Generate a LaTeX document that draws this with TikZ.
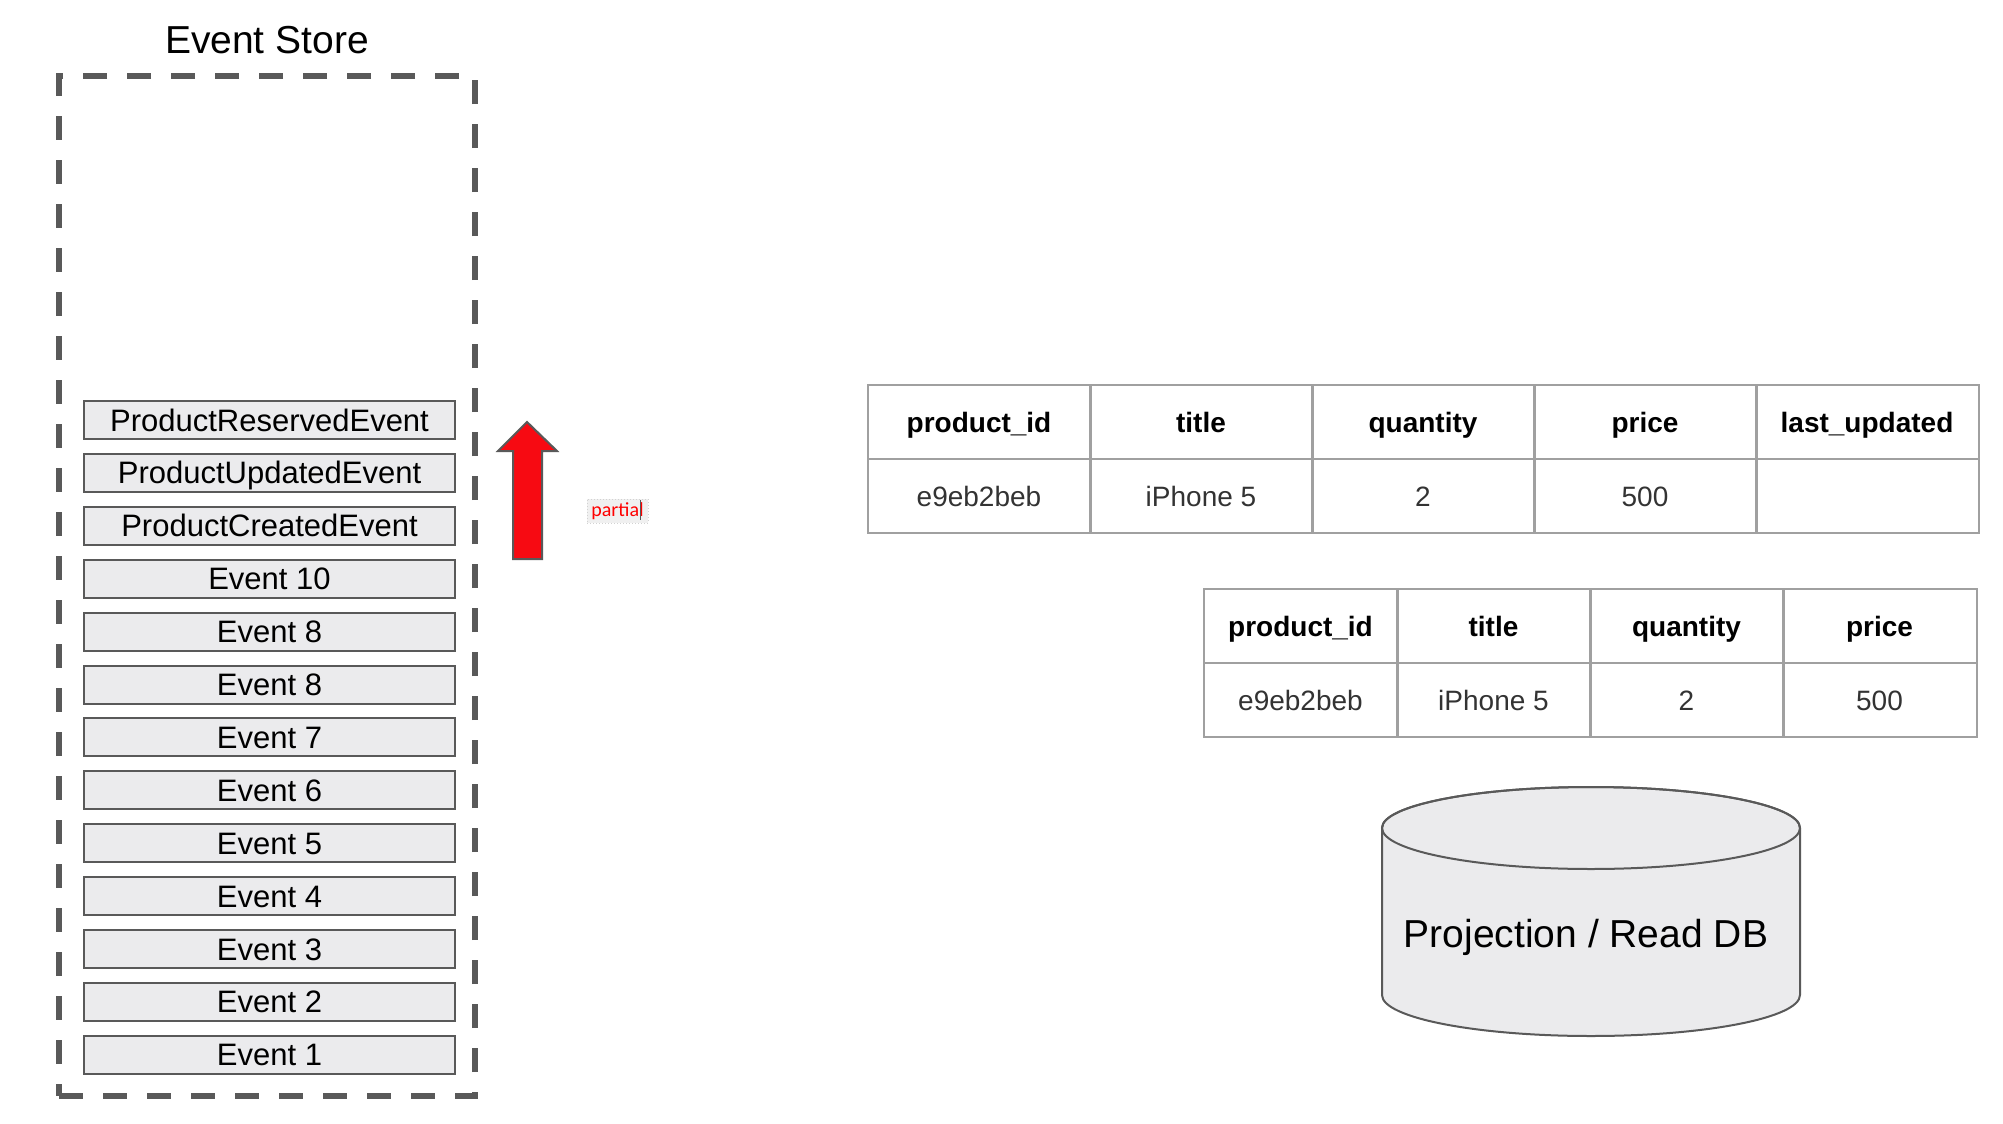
\documentclass[tikz,border=0pt]{standalone}
\usepackage{fontspec}
\setmainfont{Liberation Sans}
\newfontfamily\calibri{Carlito}
\usetikzlibrary{positioning,matrix}

\definecolor{boxgray}{HTML}{EBEBED}
\definecolor{linegray}{HTML}{595959}
\definecolor{tablegray}{HTML}{A0A0A0}
\definecolor{cellink}{HTML}{333333}
\definecolor{arrowred}{HTML}{F70A12}

\tikzset{
  event/.style={draw=linegray, line width=2pt, fill=boxgray, minimum width=371pt,
    minimum height=38pt, inner sep=0pt, font=\fontsize{31}{31}\selectfont,
    text height=22pt, text depth=0pt},
  store/.style={draw=linegray, line width=6pt, dash pattern=on 24pt off 20pt,
    minimum width=416pt, minimum height=1020pt, inner sep=0pt},
  cell/.style={draw=tablegray, line width=2pt, minimum height=74pt, inner sep=0pt,
    font=\fontsize{28}{28}\selectfont, text height=20pt, text depth=0pt, text=cellink},
  head/.style={font=\fontsize{28}{28}\selectfont\bfseries, text=black},
}

\begin{document}
\begin{tikzpicture}[x=1pt,y=-1pt,node distance=52.9pt]
    \useasboundingbox[fill=white] (0,0) rectangle (2003,1124);

    % event store
    \node[store] (store) at (267,586) {};
    \node[font=\fontsize{39}{39}\selectfont, inner sep=0pt, above=19pt of store.north] (title) {Event Store};

    \node[event] (pre) at (269.5,420) {ProductReservedEvent};
    \node[event] (pue) [below of=pre] {ProductUpdatedEvent};
    \node[event] (pce) [below of=pue] {ProductCreatedEvent};
    \node[event] (10) [below of=pce] {Event 10};
    \node[event] (8b) [below of=10] {Event 8};
    \node[event] (8) [below of=8b] {Event 8};
    \node[event] (7) [below of=8] {Event 7};
    \node[event] (6) [below of=7] {Event 6};
    \node[event] (5) [below of=6] {Event 5};
    \node[event] (4) [below of=5] {Event 4};
    \node[event] (3) [below of=4] {Event 3};
    \node[event] (2) [below of=3] {Event 2};
    \node[event] (1) [below of=2] {Event 1};

    % replay arrow
    \filldraw[fill=arrowred, draw=linegray, line width=2pt]
        (513,559) -- (513,451) -- (498,451) -- (527,422) -- (557,451) -- (542,451) -- (542,559) -- cycle;
    \node[fill=gray!12, draw=gray!35, dotted, line width=1pt, minimum width=61pt, minimum height=24pt,
        inner sep=0pt, text=red, font=\calibri\fontsize{20}{20}\selectfont] (part) at (617.5,511) {partial};
    \draw[linegray, line width=1.2pt] (640.5,500) -- (640.5,520);

    % read model tables
    \matrix (tabA) [matrix of nodes, nodes in empty cells, column sep=-3pt, row sep=-2pt,
        nodes={cell, minimum width=223pt}, row 1/.style={nodes=head}] at (1423,459) {
        product\_id & title & quantity & price & last\_updated \\
        e9eb2beb & iPhone 5 & 2 & 500 & \\
    };
    \matrix (tabB) [matrix of nodes, nodes in empty cells, column sep=-3pt, row sep=-2pt,
        nodes={cell, minimum width=194pt}, row 1/.style={nodes=head}] at (1590,663) {
        product\_id & title & quantity & price \\
        e9eb2beb & iPhone 5 & 2 & 500 \\
    };

    % projection db
    \filldraw[fill=boxgray, draw=linegray, line width=2pt]
        (1382,828) -- (1382,995) arc[start angle=180, end angle=360, x radius=209pt, y radius=41pt]
        -- (1800,828) arc[start angle=0, end angle=180, x radius=209pt, y radius=41pt] -- cycle;
    \draw[linegray, line width=2pt] (1591,828) ellipse[x radius=209pt, y radius=41pt];
    \node[font=\fontsize{39}{39}\selectfont] (db) at (1586,937) {Projection / Read DB};
\end{tikzpicture}
\end{document}
